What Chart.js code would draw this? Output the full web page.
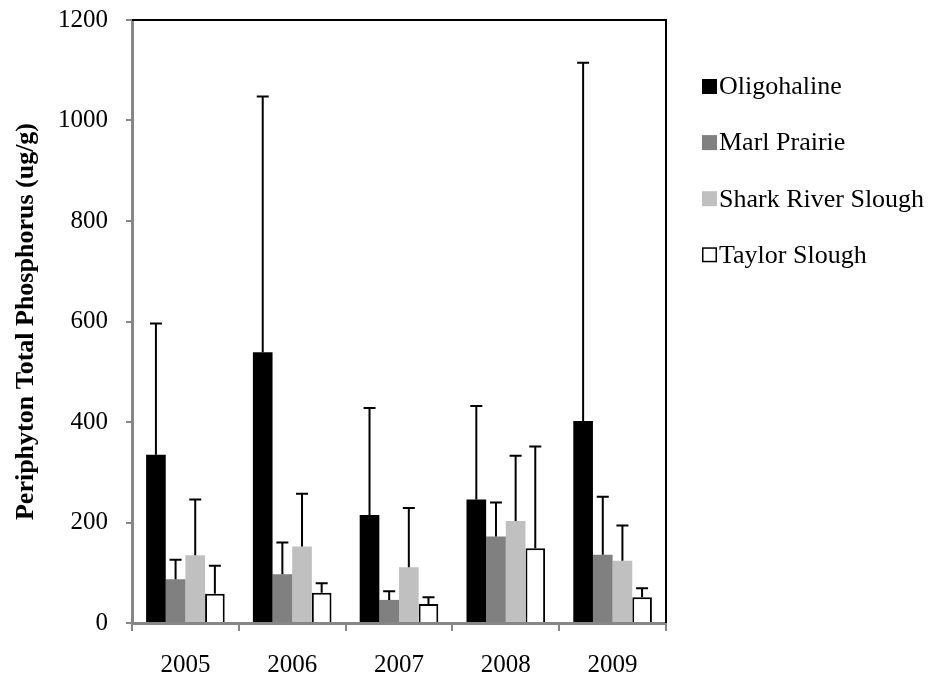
<!DOCTYPE html>
<html>
<head>
<meta charset="utf-8">
<script src="https://cdn.jsdelivr.net/npm/chart.js@4/dist/chart.umd.min.js"></script>
<style>
  html, body { margin: 0; padding: 0; background: #ffffff; }
  #wrap { width: 935px; height: 678px; }
</style>
</head>
<body>
<div id="wrap"><canvas id="chart" width="935" height="678"></canvas></div>
<script>
// Sampling years (categories)
const years = ['2005', '2006', '2007', '2008', '2009'];

// Mean periphyton total phosphorus (ug/g) by region
const oligohaline      = [335, 539, 215, 246, 402];
const marlPrairie      = [87, 97, 46, 172, 136];
const sharkRiverSlough = [135, 152, 111, 203, 124];
const taylorSlough     = [58, 60, 38, 149, 51];

// Upper error (+1 SD) for each mean
const oligohalineErr      = [261, 509, 213, 186, 713];
const marlPrairieErr      = [39, 63, 17, 68, 115];
const sharkRiverSloughErr = [111, 105, 118, 130, 70];
const taylorSloughErr     = [56, 19, 13, 202, 18];

// Y axis range and tick step
const yMin = 0;
const yMax = 1200;
const yStep = 200;

const SERIF = "'Liberation Serif', 'Times New Roman', serif";
const AXIS_GREY = '#878787';

// Whiskers drawn upward from each bar top, using the y scale
const errorBarPlugin = {
  id: 'errorBars',
  afterDatasetsDraw(chart) {
    const ctx = chart.ctx;
    const yScale = chart.scales.y;
    ctx.save();
    ctx.strokeStyle = '#000000';
    ctx.lineWidth = 2;
    chart.data.datasets.forEach((ds, i) => {
      const meta = chart.getDatasetMeta(i);
      meta.data.forEach((bar, j) => {
        const topVal = ds.data[j] + ds.errorPlus[j];
        const yTop = yScale.getPixelForValue(topVal);
        const yBase = bar.y;
        ctx.beginPath();
        ctx.moveTo(bar.x, yBase);
        ctx.lineTo(bar.x, yTop);
        ctx.moveTo(bar.x - 6, yTop);
        ctx.lineTo(bar.x + 6, yTop);
        ctx.stroke();
      });
    });
    ctx.restore();
  }
};

// Black top and right edges of the plot frame
const frameEdgesPlugin = {
  id: 'frameEdges',
  afterDraw(chart) {
    const { ctx, chartArea: a } = chart;
    ctx.save();
    ctx.strokeStyle = '#000000';
    ctx.lineWidth = 2;
    ctx.beginPath();
    ctx.moveTo(a.left, a.top);
    ctx.lineTo(a.right, a.top);
    ctx.lineTo(a.right, a.bottom);
    ctx.stroke();
    ctx.restore();
  }
};

// Legend column to the right of the plot
const sideLegendPlugin = {
  id: 'sideLegend',
  afterDraw(chart) {
    const ctx = chart.ctx;
    const x0 = 702, y0 = 86.5, rowGap = 56.1, box = 15;
    ctx.save();
    ctx.font = '26px ' + SERIF;
    ctx.textBaseline = 'middle';
    ctx.textAlign = 'left';
    chart.data.datasets.forEach((ds, i) => {
      const cy = y0 + i * rowGap;
      ctx.fillStyle = ds.backgroundColor;
      ctx.fillRect(x0, cy - box / 2, box, box);
      if (ds.borderWidth) {
        ctx.strokeStyle = ds.borderColor;
        ctx.lineWidth = 1.5;
        ctx.strokeRect(x0 + 0.75, cy - box / 2 + 0.75, box - 1.5, box - 1.5);
      }
      ctx.fillStyle = '#000000';
      ctx.fillText(ds.label, x0 + 17, cy + 1);
    });
    ctx.restore();
  }
};

const datasets = [
  { label: 'Oligohaline', data: oligohaline, errorPlus: oligohalineErr,
    backgroundColor: '#000000', borderWidth: 0 },
  { label: 'Marl Prairie', data: marlPrairie, errorPlus: marlPrairieErr,
    backgroundColor: '#808080', borderWidth: 0 },
  { label: 'Shark River Slough', data: sharkRiverSlough, errorPlus: sharkRiverSloughErr,
    backgroundColor: '#c0c0c0', borderWidth: 0 },
  { label: 'Taylor Slough', data: taylorSlough, errorPlus: taylorSloughErr,
    backgroundColor: '#ffffff', borderColor: '#000000', borderWidth: 2 }
];

new Chart(document.getElementById('chart'), {
  type: 'bar',
  data: { labels: years, datasets: datasets },
  plugins: [errorBarPlugin, frameEdgesPlugin, sideLegendPlugin],
  options: {
    responsive: false,
    animation: false,
    devicePixelRatio: 1,
    datasets: { bar: { barPercentage: 1, categoryPercentage: 0.736 } },
    layout: { padding: { top: 20, right: 269, bottom: 0, left: 0 } },
    plugins: {
      legend: { display: false },
      tooltip: { enabled: false }
    },
    scales: {
      x: {
        afterFit(scale) {
          scale.height = 55;
          scale.paddingLeft = 0;
          scale.paddingRight = 0;
        },
        border: { display: true, color: AXIS_GREY, width: 3 },
        grid: { display: true, drawOnChartArea: false, drawTicks: true,
                tickLength: 8, color: AXIS_GREY, lineWidth: 2, offset: true },
        ticks: { color: '#000000', padding: 19, maxRotation: 0,
                 font: { family: SERIF, size: 25 } }
      },
      y: {
        min: yMin,
        max: yMax,
        afterFit(scale) {
          scale.width = 132;
          scale.paddingTop = 0;
          scale.paddingBottom = 0;
        },
        border: { display: true, color: AXIS_GREY, width: 3 },
        grid: { display: true, drawOnChartArea: false, drawTicks: true,
                tickLength: 6, color: AXIS_GREY, lineWidth: 2 },
        ticks: { stepSize: yStep, color: '#000000', padding: 18,
                 font: { family: SERIF, size: 25 },
                 callback: (v) => String(v) },
        title: {
          display: true,
          text: 'Periphyton Total Phosphorus (ug/g)',
          color: '#000000',
          padding: { top: 11, bottom: 0 },
          font: { family: SERIF, size: 26, weight: 'bold' }
        }
      }
    }
  }
});
</script>
</body>
</html>
